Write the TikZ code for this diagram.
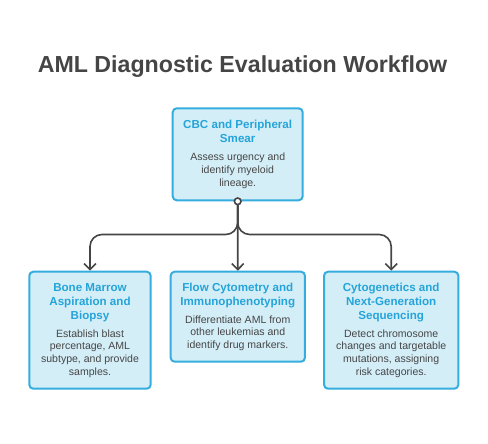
\documentclass[tikz,border=0pt]{standalone}
\usepackage{fontspec}
\setmainfont{Liberation Sans}
\usetikzlibrary{arrows.meta}
\definecolor{boxfill}{HTML}{D4EEF8}
\definecolor{boxline}{HTML}{35ADDE}
\definecolor{headblue}{HTML}{25A4D9}
\definecolor{inkgray}{HTML}{454545}
\tikzset{
	stepcard/.style={
		draw=boxline, fill=boxfill, line width=1.5pt, rounded corners=3pt,
		align=center, inner sep=0pt, anchor=north,
		font=\fontsize{7.9}{9.5}\selectfont, text=inkgray},
	flowline/.style={
		draw=inkgray, line width=1.2pt, rounded corners=9pt},
	flowarrow/.style={
		flowline, -{Straight Barb[length=4.5pt,width=9pt]}}
}
\newcommand{\cardhead}[1]{{\color{headblue}\bfseries\fontsize{8.7}{10.5}\selectfont #1\par}\vspace{4pt}}

\begin{document}
\begin{tikzpicture}[x=0.75pt,y=0.75pt,yscale=-1,xscale=1]
\useasboundingbox (0,0) rectangle (488,443);

% title
\node[anchor=base, text=inkgray, font=\bfseries\fontsize{17.4}{20}\selectfont] (title) at (242.5,72) {AML Diagnostic Evaluation Workflow};

% cards
\node[stepcard, minimum width=130*0.75pt, minimum height=92*0.75pt] (cbc) at (237.7,107.3)
	{\parbox{90pt}{\centering\cardhead{CBC and Peripheral\\Smear}Assess urgency and\\identify myeloid\\lineage.}};
\node[stepcard, minimum width=121.4*0.75pt, minimum height=117*0.75pt] (marrow) at (90,270.7)
	{\parbox{86pt}{\centering\cardhead{Bone Marrow\\Aspiration and\\Biopsy}Establish blast\\percentage, AML\\subtype, and provide\\samples.}};
\node[stepcard, minimum width=134.3*0.75pt, minimum height=90*0.75pt] (flow) at (237.8,270.7)
	{\parbox{96pt}{\centering\cardhead{Flow Cytometry and\\Immunophenotyping}Differentiate AML from\\other leukemias and\\identify drug markers.}};
\node[stepcard, minimum width=134.3*0.75pt, minimum height=117*0.75pt] (cyto) at (391.2,270.7)
	{\parbox{96pt}{\centering\cardhead{Cytogenetics and\\Next-Generation\\Sequencing}Detect chromosome\\changes and targetable\\mutations, assigning\\risk categories.}};

% connectors
\coordinate (fork) at (cbc.south |- 0,234.5);
\draw[flowarrow] (cbc.south) -- (fork) -- (fork -| marrow.north) -- (marrow.north);
\draw[flowarrow] (cbc.south) -- (fork) -- (fork -| cyto.north) -- (cyto.north);
\draw[flowarrow, rounded corners=0pt] (cbc.south) -- (flow.north);
\draw[inkgray, fill=white, line width=1.2pt] (cbc.south) circle (3.3);

\end{tikzpicture}
\end{document}
